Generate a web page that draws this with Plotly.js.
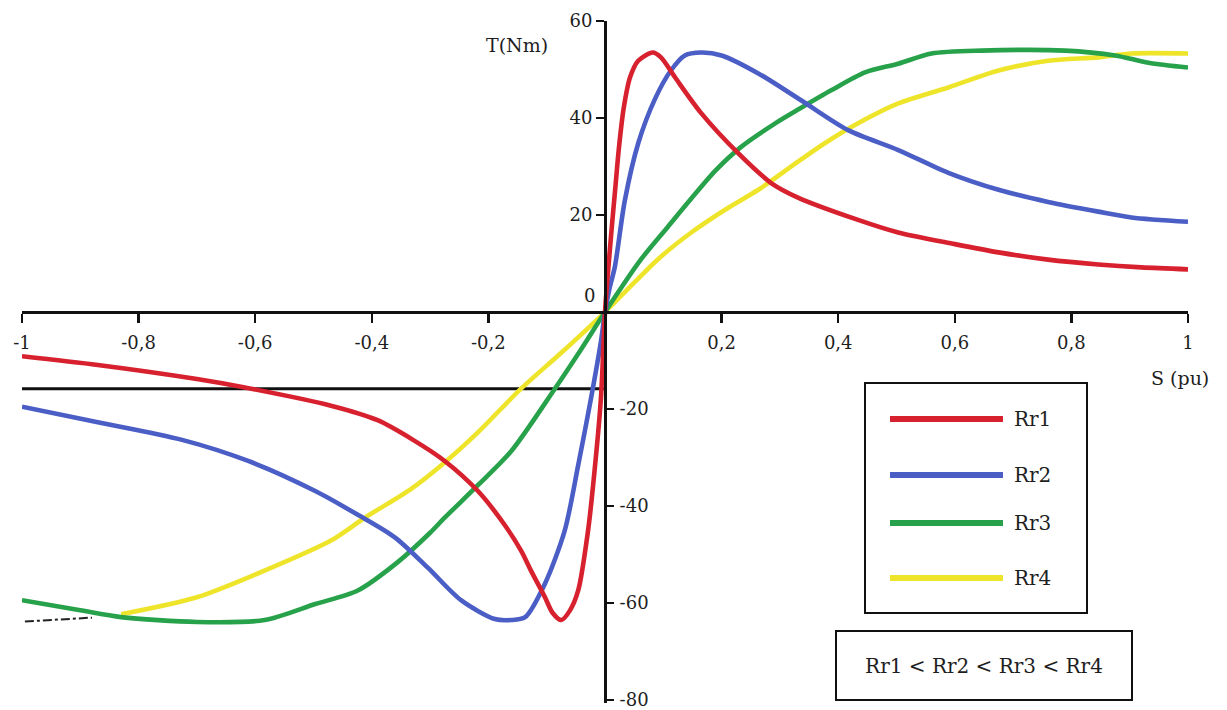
<!DOCTYPE html>
<html><head><meta charset="utf-8">
<script src="https://cdn.plot.ly/plotly-3.0.1.min.js"></script>
<style>body{margin:0;background:#fff}#chart{width:1227px;height:710px}</style>
</head><body><div id="chart"></div>
<script>
// ---- data ----
const seriesNames = ['Rr1', 'Rr2', 'Rr3', 'Rr4'];
const seriesColors = ['#d7212f', '#4b5ec6', '#27a24b', '#eee52b'];

const sRr1 = [-1, -0.87, -0.7, -0.62, -0.47, -0.39, -0.33, -0.275, -0.218, -0.172, -0.144, -0.127, -0.103, -0.09, -0.075, -0.06, -0.046, -0.029, -0.017, -0.007, 0,
  0.005, 0.012, 0.018, 0.024, 0.032, 0.043, 0.057, 0.082, 0.096, 0.12, 0.165, 0.228, 0.285, 0.331, 0.434, 0.503, 0.6, 0.675, 0.76, 0.846, 0.92, 1.0];
const tRr1 = [-9.1, -10.9, -13.8, -15.5, -19.3, -22.3, -26.3, -30.7, -36.9, -43.9, -49.2, -53.3, -58.8, -62, -63.5, -61.5, -57.4, -45, -31.6, -17.8, 0,
  8, 18, 26, 34, 42, 48.4, 51.8, 53.5, 52.5, 48.4, 41, 32.8, 26.6, 23.6, 19, 16.4, 14, 12.3, 10.8, 9.8, 9.2, 8.8];

const sRr2 = [-1, -0.87, -0.727, -0.612, -0.497, -0.424, -0.36, -0.304, -0.247, -0.189, -0.161, -0.137, -0.103, -0.069, -0.046, -0.024, -0.007, 0,
  0.008, 0.017, 0.034, 0.057, 0.086, 0.113, 0.137, 0.165, 0.2, 0.263, 0.337, 0.417, 0.503, 0.589, 0.675, 0.76, 0.846, 0.903, 1.0];
const tRr2 = [-19.5, -22.7, -26.3, -30.7, -36.9, -41.8, -46.5, -52.7, -59.4, -63.3, -63.5, -62.9, -56, -45, -31.6, -17.8, -6.1, 0,
  5, 9.4, 23, 34.8, 44, 49.8, 52.9, 53.5, 52.9, 49.2, 43.6, 37.5, 33.4, 28.7, 25.2, 22.7, 20.7, 19.5, 18.6];

const sRr3 = [-1, -0.9, -0.83, -0.7, -0.584, -0.497, -0.424, -0.355, -0.3, -0.275, -0.218, -0.161, -0.086, -0.04, 0,
  0.062, 0.108, 0.148, 0.189, 0.233, 0.292, 0.335, 0.388, 0.446, 0.503, 0.56, 0.646, 0.789, 0.875, 0.932, 1.0];
const tRr3 = [-59.4, -61.5, -62.9, -63.9, -63.5, -60.2, -57.4, -51.5, -45.5, -42.4, -35.7, -28.7, -15.8, -7.5, 0,
  10.9, 17.6, 23.4, 29.1, 34, 38.9, 42, 45.7, 49.4, 51.2, 53.3, 53.9, 53.9, 52.9, 51.4, 50.4];

const sRr4 = [-0.83, -0.7, -0.584, -0.47, -0.412, -0.333, -0.275, -0.218, -0.144, -0.075, 0,
  0.034, 0.091, 0.148, 0.206, 0.263, 0.331, 0.377, 0.434, 0.503, 0.589, 0.675, 0.76, 0.846, 0.903, 1.0];
const tRr4 = [-62.3, -58.8, -53.3, -47.1, -42.4, -36.5, -31, -24.8, -15.8, -8.4, 0,
  4.1, 10.9, 16.4, 21.1, 25.2, 31, 34.8, 38.9, 43, 46.3, 49.8, 51.8, 52.5, 53.3, 53.3];

const loadS = [-1, 0];
const loadT = [-15.8, -15.8];
const markS = [-0.995, -0.88];
const markT = [-63.8, -63.0];

const xTickVals = [-1, -0.8, -0.6, -0.4, -0.2, 0.2, 0.4, 0.6, 0.8, 1];
const xTickText = ['-1', '-0,8', '-0,6', '-0,4', '-0,2', '0,2', '0,4', '0,6', '0,8', '1'];
const yPosTickVals = [60, 40, 20];
const yPosTickText = ['60', '40', '20'];
const yNegTickVals = [-20, -40, -60, -80];
const yNegTickText = ['-20', '-40', '-60', '-80'];
const xTitle = 'S (pu)';
const yTitle = 'T(Nm)';
const noteText = 'Rr1 < Rr2 < Rr3 < Rr4';

// ---- build ----
const FONT = 'DejaVu Serif';
const TXT = '#1e1e1e';
const W = 1227, H = 710;
const M = {l: 22, r: 39, t: 21, b: 7};
const Y_RANGE = [-80.6, 60];
const PX = (x) => (x - M.l) / (W - M.l - M.r);
const PY = (y) => (H - M.b - y) / (H - M.t - M.b);

const sArr = [sRr1, sRr2, sRr3, sRr4];
const tArr = [tRr1, tRr2, tRr3, tRr4];

const traces = [];
traces.push({x: loadS, y: loadT, mode: 'lines', line: {color: '#111', width: 3}, showlegend: false, hoverinfo: 'skip'});
traces.push({x: markS, y: markT, mode: 'lines', line: {color: '#222', width: 2, dash: 'dashdot'}, showlegend: false, hoverinfo: 'skip'});
[3, 2, 1, 0].forEach(i => {
  traces.push({x: sArr[i], y: tArr[i], name: seriesNames[i], mode: 'lines',
    line: {color: seriesColors[i], width: 4.6, shape: 'spline', smoothing: 0.8}, showlegend: false});
});
// invisible trace so the second (negative-label) y axis is bound to data
traces.push({x: [0], y: [0], yaxis: 'y2', mode: 'markers', marker: {opacity: 0}, showlegend: false, hoverinfo: 'skip'});

const shapes = [{type: 'rect', xref: 'paper', yref: 'paper', x0: PX(865), x1: PX(1087), y0: PY(383), y1: PY(613),
  line: {color: '#111', width: 2}, fillcolor: '#fff', layer: 'above'}];
const annotations = [];
const rowY = [419, 475, 523, 578];
seriesNames.forEach((n, i) => {
  shapes.push({type: 'line', xref: 'paper', yref: 'paper', x0: PX(890), x1: PX(1003), y0: PY(rowY[i]), y1: PY(rowY[i]),
    line: {color: seriesColors[i], width: 6}, layer: 'above'});
  annotations.push({xref: 'paper', yref: 'paper', x: PX(1012), y: PY(rowY[i]), xanchor: 'left', yanchor: 'middle',
    text: n, showarrow: false, font: {family: FONT, size: 20, color: TXT}});
});
annotations.push({xref: 'paper', yref: 'paper', x: PX(984), y: PY(665), xanchor: 'center', yanchor: 'middle',
  text: noteText, showarrow: false, width: 294, height: 67, borderpad: 0, bordercolor: '#111', borderwidth: 2,
  bgcolor: '#fff', font: {family: FONT, size: 20, color: TXT}});
annotations.push({xref: 'paper', yref: 'paper', x: PX(517), y: PY(45), xanchor: 'center', yanchor: 'middle',
  text: yTitle, showarrow: false, font: {family: FONT, size: 19, color: TXT}});
annotations.push({xref: 'paper', yref: 'paper', x: PX(1180), y: PY(378), xanchor: 'center', yanchor: 'middle',
  text: xTitle, showarrow: false, font: {family: FONT, size: 19, color: TXT}});
annotations.push({xref: 'x', yref: 'y', x: 0, y: 0, xanchor: 'right', yanchor: 'bottom', xshift: -8, yshift: 4,
  text: '0', showarrow: false, font: {family: FONT, size: 18, color: TXT}});

const tickFont = {family: FONT, size: 18, color: TXT};
const layout = {
  width: W, height: H, margin: M,
  paper_bgcolor: '#fff', plot_bgcolor: '#fff',
  showlegend: false,
  font: {family: FONT, size: 18, color: TXT},
  xaxis: {range: [-1, 1], anchor: 'free', position: -Y_RANGE[0] / (Y_RANGE[1] - Y_RANGE[0]), showgrid: false, zeroline: false,
    showline: true, linecolor: '#111', linewidth: 3, ticks: 'outside', ticklen: 9, tickwidth: 2.5, tickcolor: '#111',
    tickvals: xTickVals, ticktext: xTickText, ticklabelstandoff: 4, ticklabeloverflow: 'allow', tickfont: tickFont},
  yaxis: {range: Y_RANGE, anchor: 'free', position: 0.5, side: 'left', showgrid: false, zeroline: false,
    showline: true, linecolor: '#111', linewidth: 3, ticks: 'outside', ticklen: 8, tickwidth: 2.5, tickcolor: '#111',
    tickvals: yPosTickVals, ticktext: yPosTickText, ticklabeloverflow: 'allow', tickfont: tickFont},
  yaxis2: {range: Y_RANGE, overlaying: 'y', anchor: 'free', position: 0.5, side: 'right', showgrid: false, zeroline: false,
    showline: false, ticks: 'outside', ticklen: 8, tickwidth: 2.5, tickcolor: '#111',
    tickvals: yNegTickVals, ticktext: yNegTickText, ticklabeloverflow: 'allow', ticklabelstandoff: 2, tickfont: tickFont},
  shapes: shapes,
  annotations: annotations
};
Plotly.newPlot('chart', traces, layout, {staticPlot: true, displayModeBar: false});
</script></body></html>
